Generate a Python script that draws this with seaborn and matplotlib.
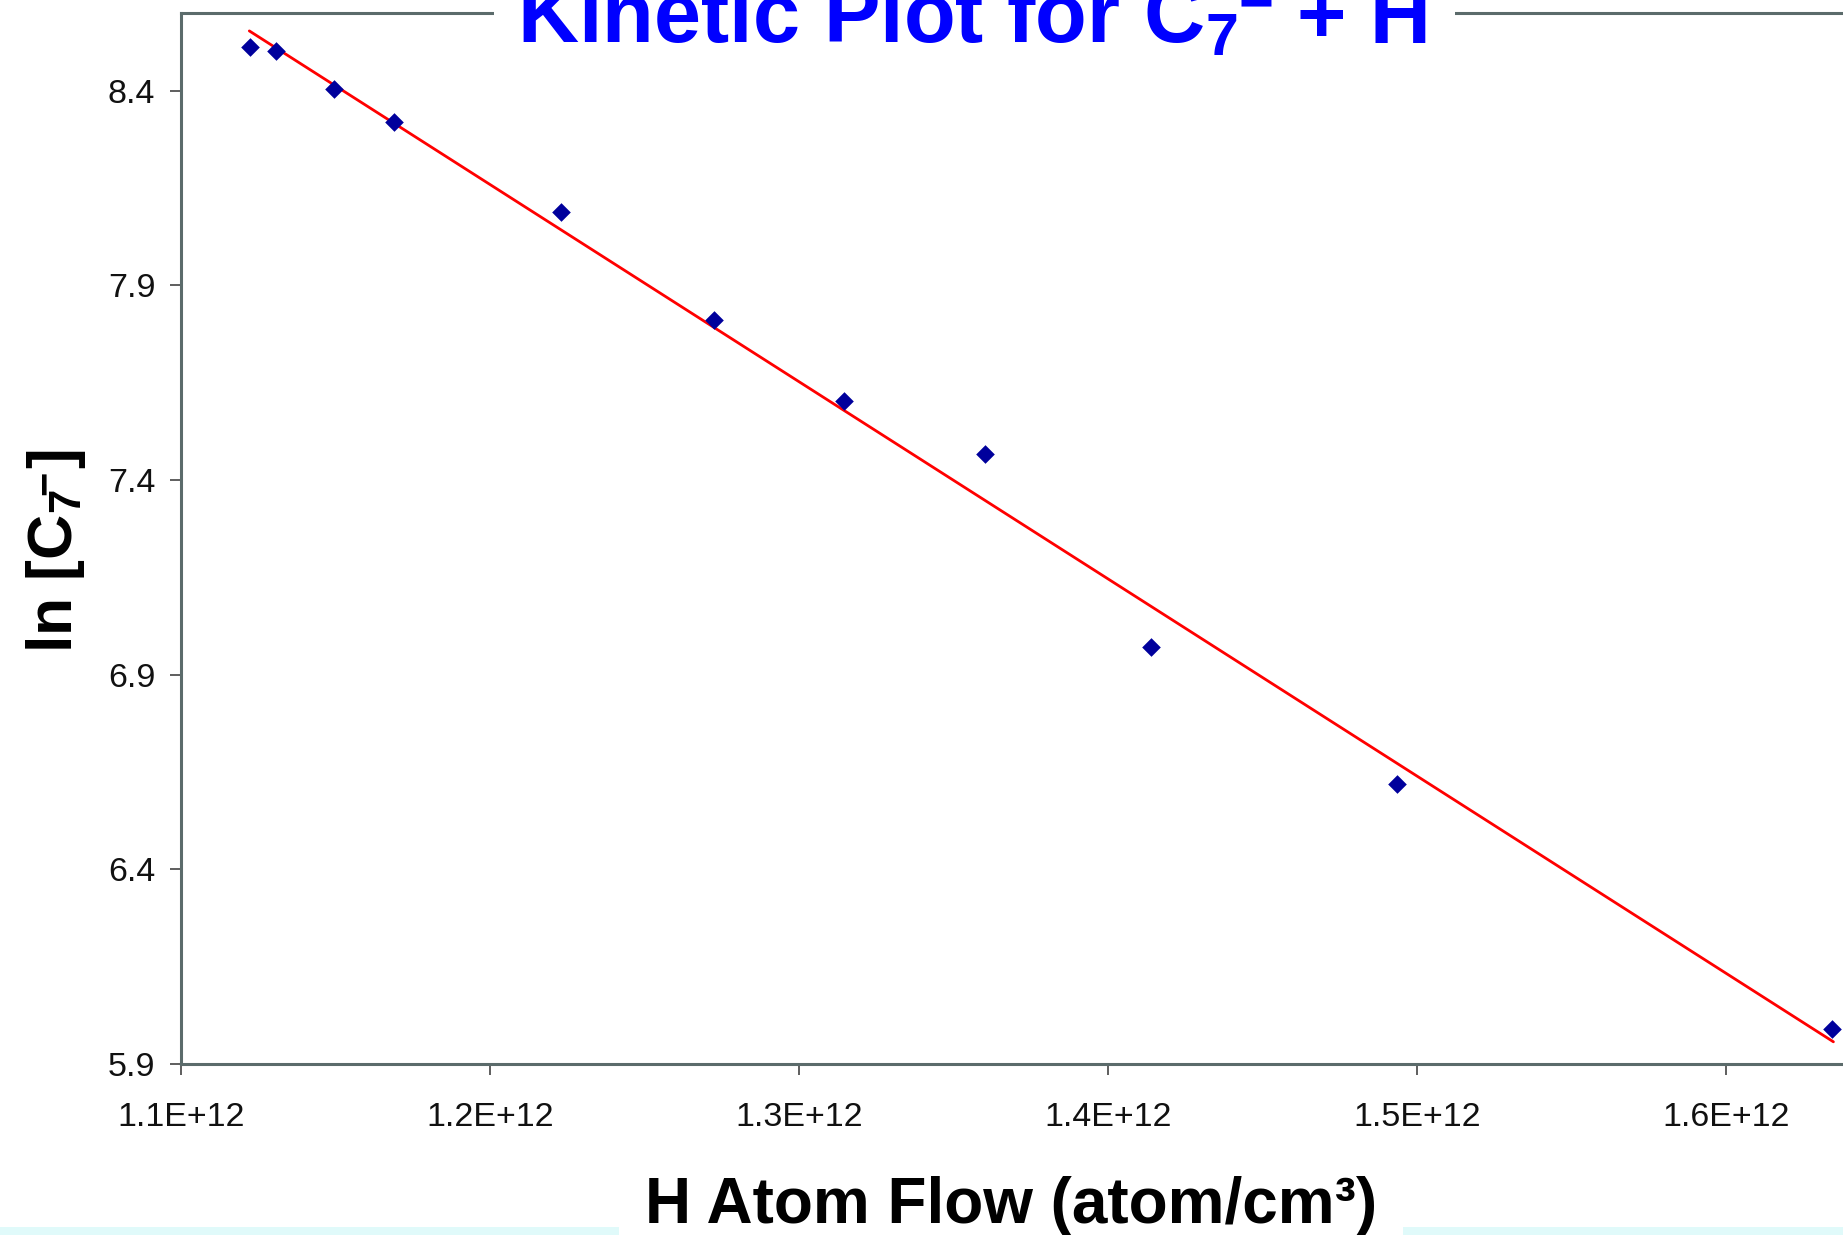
import numpy as np
import pandas as pd
import matplotlib
matplotlib.use("Agg")
import matplotlib.pyplot as plt
from matplotlib.patches import Rectangle
import seaborn as sns

# ---- data ----
h_flow = [1.1224e12, 1.1308e12, 1.1494e12, 1.1688e12, 1.2228e12, 1.2726e12,
          1.3144e12, 1.3601e12, 1.4137e12, 1.4935e12, 1.6342e12]
ln_c7 = [8.512, 8.503, 8.406, 8.321, 8.089, 7.811,
         7.603, 7.467, 6.972, 6.619, 5.991]
trend_x = [1.1221e12, 1.6346e12]
trend_y = [8.554, 5.957]
x_ticks = [1.1e12, 1.2e12, 1.3e12, 1.4e12, 1.5e12, 1.6e12]
x_tick_labels = ["1.1E+12", "1.2E+12", "1.3E+12", "1.4E+12", "1.5E+12", "1.6E+12"]
y_ticks = [5.9, 6.4, 6.9, 7.4, 7.9, 8.4]
y_tick_labels = ["5.9", "6.4", "6.9", "7.4", "7.9", "8.4"]
title_parts = [r"Kinetic Plot for C$_7$", "\u2212", "+ H"]
xlabel_text = "H Atom Flow (atom/cm³)"
ylabel_parts = [r"ln [C$_7$", "\u2212", "]"]

sns.set_theme(style="white")
plt.rcParams["font.family"] = ["Liberation Sans", "DejaVu Sans"]
plt.rcParams["mathtext.fontset"] = "custom"
plt.rcParams["mathtext.rm"] = "Liberation Sans:bold"
plt.rcParams["mathtext.it"] = "Liberation Sans:bold"
plt.rcParams["mathtext.bf"] = "Liberation Sans:bold"
plt.rcParams["mathtext.default"] = "rm"

W, H = 1843, 1235
fig = plt.figure(figsize=(W / 100, H / 100), dpi=100)
fig.patch.set_facecolor("white")

left, right, top, bottom = 181, 1843, 13, 1064
ax = fig.add_axes([left / W, 1 - bottom / H, (right - left) / W, (bottom - top) / H])
ax.set_facecolor("white")

df = pd.DataFrame({"x": h_flow, "y": ln_c7})
tdf = pd.DataFrame({"x": trend_x, "y": trend_y})
sns.lineplot(data=tdf, x="x", y="y", ax=ax, color="#FF0000", linewidth=2.0, zorder=2)
sns.scatterplot(data=df, x="x", y="y", ax=ax, marker="D", s=90, color="#00009C",
                linewidth=0, zorder=3)

ax.set_xlim(1.1e12, 1.6377e12)
ax.set_ylim(5.9, 8.6)
ax.set_xticks(x_ticks)
ax.set_xticklabels(x_tick_labels)
ax.set_yticks(y_ticks)
ax.set_yticklabels(y_tick_labels)
ax.set_xlabel("")
ax.set_ylabel("")

spine_color = "#5B6B6B"
for side in ["left", "bottom", "top"]:
    ax.spines[side].set_visible(True)
    ax.spines[side].set_color(spine_color)
    ax.spines[side].set_linewidth(2.2)
ax.spines["right"].set_visible(False)

ax.tick_params(axis="both", which="major", direction="out", length=8, width=1.1,
               color="#333333", labelsize=24.5, labelcolor="#111111")
ax.tick_params(axis="x", pad=19, bottom=True, top=False)
ax.tick_params(axis="y", pad=10.5, left=True, right=False)

# light cyan strip at the bottom of the slide
fig.patches.append(Rectangle((0, 0), 1, 8 / H, transform=fig.transFigure,
                             facecolor="#E0FAFA", edgecolor="none", zorder=0))
# white box behind the title, interrupting the top spine
fig.patches.append(Rectangle((494 / W, 1 - 30 / H), (1455 - 494) / W, 30 / H,
                             transform=fig.transFigure, facecolor="white",
                             edgecolor="none", zorder=1))

renderer = fig.canvas.get_renderer()


def chain_text(parts, sizes, raises, gaps, start, rot, color):
    x, y = start
    for s, size, rz, gap in zip(parts, sizes, raises, gaps):
        if rot == 0:
            px, py = x + gap, y + rz
        else:
            px, py = x - rz, y + gap
        t = fig.text(px / W, py / H, s, rotation=rot, rotation_mode="anchor",
                     ha="left", va="baseline", fontsize=size, fontweight="bold",
                     color=color, zorder=3)
        bb = t.get_window_extent(renderer)
        if rot == 0:
            x = bb.x1
        else:
            y = bb.y1


# title (cut by the top of the image)
chain_text(title_parts, [61, 43, 61], [0, 21, 0], [0, 1, 24],
           (517, H - 43), 0, "#0000FF")

# y label (rotated)
chain_text(ylabel_parts, [45, 30, 45], [0, 15, 0], [0, -6, 3],
           (72, H - 653), 90, "black")

# x label with white box
fig.text(1011 / W, 1 - 1223 / H, xlabel_text, ha="center", va="baseline",
         fontsize=46, fontweight="bold", color="black",
         bbox=dict(boxstyle="square,pad=0.4", facecolor="white", edgecolor="none"))

fig.savefig("out.png", dpi=100, facecolor="white")
